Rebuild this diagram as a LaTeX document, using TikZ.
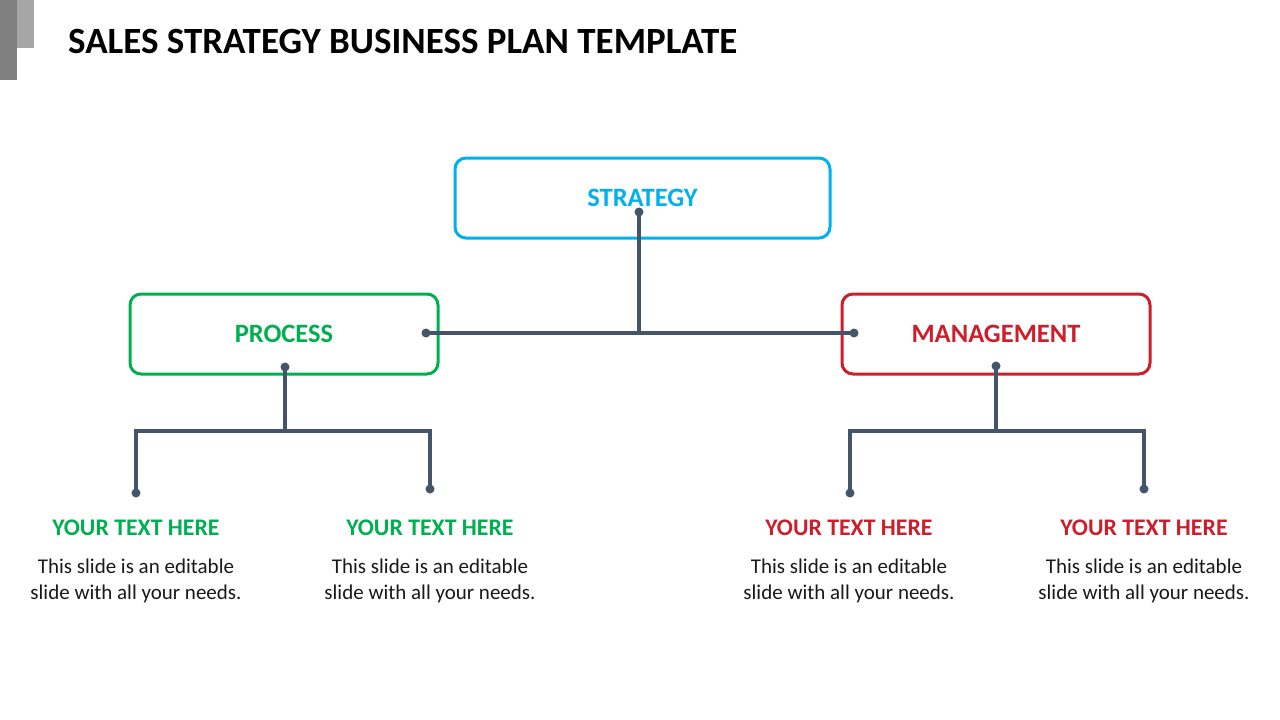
\documentclass[tikz,border=0pt]{standalone}
\usepackage{fontspec}
\setmainfont{Carlito}
\definecolor{cblue}{HTML}{00B0F0}
\definecolor{cgreen}{HTML}{00B050}
\definecolor{cred}{HTML}{CC1F2C}
\definecolor{cline}{HTML}{44546A}
\definecolor{gdark}{HTML}{808080}
\definecolor{glight}{HTML}{A6A6A6}
\tikzset{
  box/.style={draw, line width=3pt, rounded corners=11pt, minimum width=#1, minimum height=80pt, inner sep=0pt},
  boxlabel/.style={font=\fontsize{26.5}{30}\selectfont\bfseries},
  conn/.style={draw=cline, line width=3.2pt},
  dotc/.style={fill=cline},
  head/.style={font=\fontsize{23.8}{28}\selectfont\bfseries, inner sep=0pt},
  body/.style={font=\fontsize{21}{26}\selectfont, align=center, text=black!90, inner sep=0pt}
}
\begin{document}
\begin{tikzpicture}[x=1pt,y=-1pt]
\useasboundingbox (0,0) rectangle (1280,720);
\fill[white] (0,0) rectangle (1280,720);
\fill[gdark] (0,0) rectangle (17,80);
\fill[glight] (17,0) rectangle (34,48);
\node[anchor=base west, inner sep=0pt, font=\fontsize{37}{42}\selectfont\bfseries] (title) at (68,53) {SALES STRATEGY BUSINESS PLAN TEMPLATE};

\node[box=375pt, draw=cblue, text=cblue, boxlabel] (strategy) at (642.5,198) {STRATEGY};
\node[box=308pt, draw=cgreen, text=cgreen, boxlabel] (process) at (284,334) {PROCESS};
\node[box=308pt, draw=cred, text=cred, boxlabel] (management) at (996,334) {MANAGEMENT};

% dots / coordinates
\coordinate (sdot) at (639,212);
\coordinate (sj) at (639,333);
\coordinate (pdot) at (426,333);
\coordinate (mdot) at (854,333);
\coordinate (pdown) at (285,367);
\coordinate (pj) at (285,431);
\coordinate (p1) at (136,493);
\coordinate (p2) at (430,489);
\coordinate (mdown) at (996,366);
\coordinate (mj) at (996,431);
\coordinate (m1) at (850,493);
\coordinate (m2) at (1144,489);

\draw[conn] (sdot) -- (sj);
\draw[conn] (pdot) -- (mdot);
\draw[conn] (pdown) -- (pj);
\draw[conn] (p1) |- (pj) -| (p2);
\draw[conn] (mdown) -- (mj);
\draw[conn] (m1) |- (mj) -| (m2);
\foreach \c in {sdot,pdot,mdot,pdown,p1,p2,mdown,m1,m2}
  \fill[dotc] (\c) circle (4.5pt);

\node[head, text=cgreen] (h1) at (136,528) {YOUR TEXT HERE};
\node[head, text=cgreen] (h2) at (430,528) {YOUR TEXT HERE};
\node[head, text=cred] (h3) at (849,528) {YOUR TEXT HERE};
\node[head, text=cred] (h4) at (1144,528) {YOUR TEXT HERE};

\node[body] (b1) at (136,581) {This slide is an editable\\slide with all your needs.};
\node[body] (b2) at (430,581) {This slide is an editable\\slide with all your needs.};
\node[body] (b3) at (849,581) {This slide is an editable\\slide with all your needs.};
\node[body] (b4) at (1144,581) {This slide is an editable\\slide with all your needs.};
\end{tikzpicture}
\end{document}
